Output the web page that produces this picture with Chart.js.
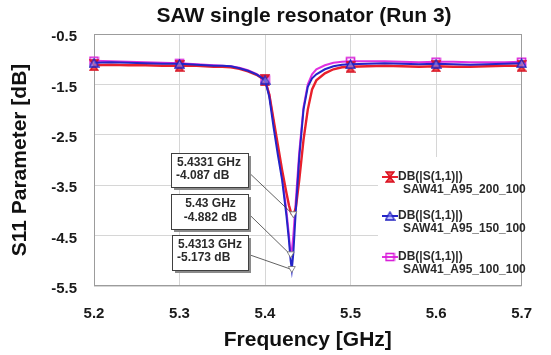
<!DOCTYPE html>
<html><head><meta charset="utf-8">
<script src="https://cdn.jsdelivr.net/npm/chart.js@4.4.0/dist/chart.umd.min.js"></script>
<style>html,body{margin:0;padding:0;background:#fff}#wrap{width:551px;height:355px}</style>
</head><body><div id="wrap"><canvas id="c" width="551" height="355"></canvas></div>
<script>
// ---- data ----
const freqGHz = [5.20,5.22,5.24,5.26,5.28,5.30,5.32,5.34,5.35,5.36,5.37,5.38,5.39,5.40,5.405,5.41,5.415,5.42,5.425,5.428,5.43,5.4313,5.4331,5.436,5.44,5.445,5.45,5.455,5.46,5.47,5.48,5.49,5.50,5.52,5.54,5.56,5.58,5.60,5.62,5.64,5.66,5.68,5.70];
const s11_200 = [-1.12,-1.11,-1.12,-1.12,-1.13,-1.13,-1.13,-1.15,-1.15,-1.16,-1.19,-1.24,-1.31,-1.42,-1.70,-2.20,-2.70,-3.20,-3.65,-3.90,-4.02,-4.07,-4.087,-3.95,-3.40,-2.60,-2.00,-1.60,-1.42,-1.28,-1.20,-1.16,-1.15,-1.14,-1.13,-1.14,-1.15,-1.14,-1.15,-1.15,-1.14,-1.13,-1.13];
const s11_150 = [-1.07,-1.06,-1.07,-1.08,-1.09,-1.09,-1.11,-1.13,-1.13,-1.14,-1.18,-1.23,-1.30,-1.41,-1.75,-2.35,-2.90,-3.40,-4.10,-4.60,-5.00,-5.173,-4.85,-4.00,-2.95,-2.00,-1.55,-1.38,-1.30,-1.20,-1.14,-1.11,-1.10,-1.09,-1.08,-1.09,-1.10,-1.09,-1.10,-1.11,-1.10,-1.09,-1.08];
const s11_100 = [-1.03,-1.04,-1.05,-1.06,-1.07,-1.08,-1.10,-1.12,-1.13,-1.14,-1.17,-1.22,-1.29,-1.40,-1.70,-2.25,-2.80,-3.35,-4.00,-4.50,-4.882,-4.80,-4.50,-3.80,-2.85,-1.95,-1.50,-1.30,-1.20,-1.12,-1.07,-1.05,-1.04,-1.04,-1.04,-1.05,-1.06,-1.05,-1.05,-1.06,-1.06,-1.06,-1.05];
const seriesLabel = 'DB(|S(1,1)|)';
const seriesNames = ['SAW41_A95_200_100','SAW41_A95_150_100','SAW41_A95_100_100'];
const xTicks = [5.2,5.3,5.4,5.5,5.6,5.7];
const yTicks = [-5.5,-4.5,-3.5,-2.5,-1.5,-0.5];
const markerFreqs = [5.2,5.3,5.4,5.5,5.6,5.7];
const peakFreq = [5.4331, 5.43, 5.4313];   // red, magenta, blue
const peakDb = [-4.087, -4.882, -5.173];

// ---- styles ----
const FONT = "'Liberation Sans', Arial, sans-serif";
const colors = ['#e8202c', '#2424c8', '#e030e0'];
function mk(w,h,fn){const c=document.createElement('canvas');c.width=w;c.height=h;fn(c.getContext('2d'));return c;}
const mRed = mk(10,12,g=>{g.beginPath();g.moveTo(1,1);g.lineTo(9,1);g.lineTo(5,6);g.lineTo(9,11);g.lineTo(1,11);g.lineTo(5,6);g.closePath();g.fillStyle='#f05050';g.fill();g.strokeStyle='#d81020';g.lineWidth=1.3;g.stroke();});
const mBlue = mk(11,10,g=>{g.beginPath();g.moveTo(5.5,1);g.lineTo(10,9);g.lineTo(1,9);g.closePath();g.fillStyle='rgba(150,150,255,0.6)';g.fill();g.strokeStyle='#2020c0';g.lineWidth=1.3;g.stroke();});
const mMag = mk(11,10,g=>{g.strokeStyle='#d820d8';g.lineWidth=1.6;g.strokeRect(1.5,1.5,8,7);});
const markers = [mRed, mBlue, mMag];

function pts(arr){return freqGHz.map((f,i)=>({x:f,y:arr[i]}));}
function isMarker(ctx){const p=ctx.raw;return p && markerFreqs.some(m=>Math.abs(m-p.x)<1e-6);}

const overlay = {
  id:'overlay',
  beforeDatasetsDraw(chart){
    const {ctx, chartArea:a} = chart;
    ctx.save();
    ctx.fillStyle='#fff';
    ctx.fillRect(378, 157, a.right-378, a.bottom-157);
    ctx.strokeStyle='#9c9c9c'; ctx.lineWidth=1;
    ctx.strokeRect(Math.round(a.left)+0.5, Math.round(a.top)+0.5, Math.round(a.right-a.left)-1, Math.round(a.bottom-a.top)-1);
    ctx.restore();
  },
  afterDatasetsDraw(chart){
    const {ctx, scales:{x,y}} = chart;
    ctx.save();
    // legend
    const legY = [177, 216, 257];
    seriesNames.forEach((n,i)=>{
      const ly = legY[i];
      ctx.strokeStyle = colors[i]; ctx.lineWidth=2;
      ctx.beginPath(); ctx.moveTo(382, ly); ctx.lineTo(398, ly); ctx.stroke();
      const m = markers[i];
      ctx.drawImage(m, 390-m.width/2, ly-m.height/2);
      ctx.fillStyle='#2a2a2a'; ctx.font='bold 12px '+FONT; ctx.textBaseline='middle'; ctx.textAlign='left';
      ctx.fillText(seriesLabel, 398, ly);
      ctx.fillText(n, 403, ly+13);
    });
    // annotation boxes
    const boxes = [{x:171,y:153,w:77,h:34,al:'left'},{x:171,y:194,w:77,h:35,al:'center'},{x:172,y:235,w:76,h:35,al:'left'}];
    peakFreq.forEach((f,i)=>{
      const px = x.getPixelForValue(f), py = y.getPixelForValue(peakDb[i]);
      const b = boxes[i];
      ctx.strokeStyle='#3a3a3a'; ctx.lineWidth=0.8;
      ctx.beginPath(); ctx.moveTo(b.x+b.w, b.y+b.h*0.55); ctx.lineTo(px, py); ctx.stroke();
      ctx.beginPath(); ctx.moveTo(px-3.5, py-3); ctx.lineTo(px+3.5, py-3); ctx.lineTo(px, py+3); ctx.closePath();
      ctx.fillStyle='#fff'; ctx.fill(); ctx.strokeStyle='#707070'; ctx.lineWidth=0.8; ctx.stroke();
    });
    peakFreq.forEach((f,i)=>{
      const b = boxes[i];
      ctx.fillStyle='#8a8a8a'; ctx.fillRect(b.x+3, b.y+3, b.w, b.h);
      ctx.fillStyle='#fff'; ctx.fillRect(b.x, b.y, b.w, b.h);
      ctx.strokeStyle='#404040'; ctx.lineWidth=1; ctx.strokeRect(b.x+0.5, b.y+0.5, b.w, b.h);
      ctx.fillStyle='#2a2a2a'; ctx.font='bold 12px '+FONT; ctx.textBaseline='middle';
      const l1 = f + ' GHz', l2 = peakDb[i].toFixed(3) + ' dB';
      if (b.al==='center'){ctx.textAlign='center'; ctx.fillText(l1, b.x+b.w/2+1, b.y+10); ctx.fillText(l2, b.x+b.w/2+1, b.y+24);}
      else {ctx.textAlign='left'; ctx.fillText(l1, b.x+6, b.y+10); ctx.fillText(l2, b.x+5, b.y+23);}
    });
    ctx.restore();
  },
  afterDraw(chart){
    const {ctx} = chart;
    ctx.save();
    ctx.fillStyle='#111'; ctx.font='bold 21px '+FONT; ctx.textAlign='center'; ctx.textBaseline='middle';
    ctx.fillText('SAW single resonator (Run 3)', 304, 16);
    ctx.restore();
  }
};

const data = [s11_200, s11_150, s11_100];
new Chart(document.getElementById('c'), {
  type:'line',
  data:{datasets: data.map((arr,i)=>({
    label: seriesLabel + ' ' + seriesNames[i],
    data: pts(arr),
    borderColor: colors[i],
    borderWidth: i===0 ? 2.4 : 2,
    tension: 0,
    fill: false,
    order: [1,0,2][i],
    pointStyle: markers[i],
    pointRadius: ctx => isMarker(ctx) ? 4 : 0,
    pointHoverRadius: 0,
    clip: 6
  }))},
  plugins:[overlay],
  options:{
    responsive:false, animation:false, devicePixelRatio:1,
    events: [],
    layout:{padding:{left:0,right:20,top:34,bottom:0}},
    plugins:{legend:{display:false}, title:{display:false}, tooltip:{enabled:false}},
    scales:{
      x:{type:'linear', min:5.2, max:5.7,
        afterBuildTicks: s=>{s.ticks = xTicks.map(v=>({value:v}));},
        afterFit: s=>{s.height = 69;},
        grid:{color:'#d6d6d6', drawTicks:false}, border:{display:false},
        ticks:{padding:19, color:'#1a1a1a', font:{family:FONT,size:15,weight:'bold'}, callback:v=>Number(v).toFixed(1), maxRotation:0},
        title:{display:true, text:'Frequency [GHz]', color:'#111', font:{family:FONT,size:21,weight:'bold'}, padding:{top:0,bottom:2}}
      },
      y:{type:'linear', min:-5.5, max:-0.5,
        afterBuildTicks: s=>{s.ticks = yTicks.map(v=>({value:v}));},
        afterFit: s=>{s.width = 94;},
        grid:{color:'#d6d6d6', drawTicks:false}, border:{display:false},
        ticks:{padding:17, labelOffset:3, color:'#1a1a1a', font:{family:FONT,size:15,weight:'bold'}, callback:v=>Number(v).toFixed(1)},
        title:{display:true, text:'S11 Parameter [dB]', color:'#111', font:{family:FONT,size:21,weight:'bold'}, padding:{top:8,bottom:0}}
      }
    }
  }
});
</script></body></html>
